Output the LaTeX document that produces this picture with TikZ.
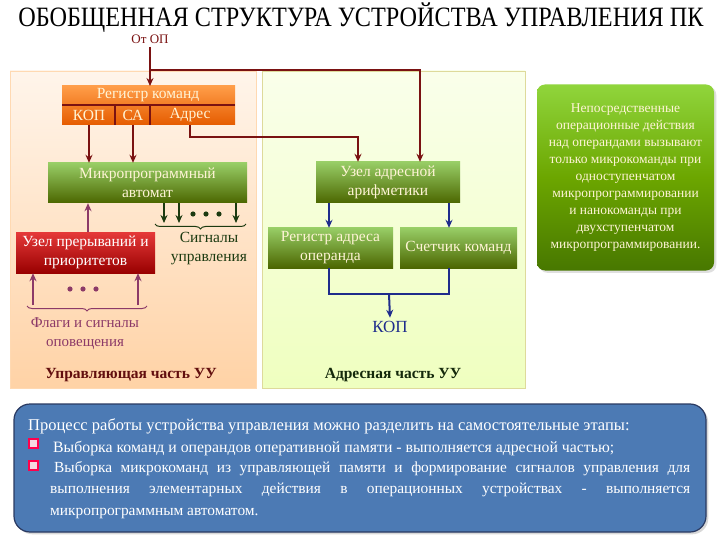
\documentclass[tikz,border=0pt]{standalone}
\usepackage{fontspec}
\setmainfont{Liberation Serif}
\usetikzlibrary{arrows.meta,decorations.pathreplacing,shadows}
\definecolor{dred}{HTML}{7A1212}
\definecolor{dblue}{HTML}{1F2C8C}
\definecolor{dgreen}{HTML}{1C3A10}
\definecolor{purp}{HTML}{8C3A68}
\definecolor{cream}{HTML}{FFF4D6}
\definecolor{botfill}{HTML}{4C7AB4}
\definecolor{botdraw}{HTML}{2A3A62}
\tikzset{
  x=1pt,y=-1pt,
  regbox/.style={draw=none,top color=orange!70!white!95!red,bottom color=orange!80!red!90!black},
  gbox/.style={draw=none,top color=green!35!olive!60!white,bottom color=olive!85!green!70!black},
  rbox/.style={draw=none,top color=red!75!white!90!black,bottom color=red!60!black},
  btxt/.style={font=\fontsize{15.5}{19}\selectfont,text=cream,align=center},
  redarr/.style={draw=dred,line width=2pt,-{Stealth[length=8pt,width=7pt]}},
  bluearr/.style={draw=dblue,line width=2pt,-{Stealth[length=8pt,width=7pt]}},
  grnarr/.style={draw=dgreen,line width=2pt,-{Stealth[length=8pt,width=7pt]}},
  purarr/.style={draw=purp,line width=2pt,-{Stealth[length=8pt,width=7pt]}},
  bline/.style={draw=dblue,line width=2pt},
  rline/.style={draw=dred,line width=2pt},
  brc/.style={decorate,decoration={brace,mirror,amplitude=5pt},line width=1pt},
}
\begin{document}
\begin{tikzpicture}
\useasboundingbox (0,0) rectangle (720,540);
\fill[white] (0,0) rectangle (720,540);
% title
\node[inner sep=0] (title) at (361,18) {\scalebox{0.865}[1]{\fontsize{28}{30}\selectfont ОБОБЩЕННАЯ СТРУКТУРА УСТРОЙСТВА УПРАВЛЕНИЯ ПК}};
\node[text=dred,font=\fontsize{13}{14}\selectfont,inner sep=1pt] (fromop) at (150,39) {От ОП};
% panels
\shade[top color=orange!8,bottom color=orange!35,draw=orange!30] (10,71) rectangle (256,388);
\shade[top color=lime!8!white,bottom color=lime!25!white,draw=olive!30] (262,71) rectangle (525,388);
% register
\shade[regbox] (62,86) rectangle (235,125);
\coordinate (regtop) at (150,86);
\draw[dred,line width=1.5pt] (62,105) -- (235,105) (115,105) -- (115,125) (150,105) -- (150,125);
\node[btxt] (reg) at (148,95.5) {Регистр команд};
\node[btxt] (kop1) at (89,115.5) {КОП};
\node[btxt] (sa) at (133,115.5) {СА};
\node[btxt] (adr) at (190,115.5) {Адрес};
% automat
\node[gbox,minimum width=199pt,minimum height=40pt,btxt] (mpa) at (147.5,183) {Микропрограммный\\автомат};
% interrupts
\node[rbox,minimum width=139pt,minimum height=41pt,btxt,text=white] (intr) at (85.5,252.5) {Узел прерываний и\\приоритетов};
% address arithmetic
\node[gbox,minimum width=144pt,minimum height=41pt,btxt] (aau) at (388,182.5) {Узел адресной\\арифметики};
\node[gbox,minimum width=125pt,minimum height=40pt,btxt] (rao) at (330.5,248) {Регистр адреса\\операнда};
\node[gbox,minimum width=117pt,minimum height=40pt,btxt] (sk) at (458.5,248) {Счетчик команд};
% right box
\node[draw=none,rounded corners=8pt,top color=olive!55!green!60!white,bottom color=olive!75!green!75!black,minimum width=177pt,minimum height=186pt,drop shadow={opacity=0.25}] (note) at (625.5,177.5) {};
\node[text=cream,align=center,font=\fontsize{13.5}{17}\selectfont] (notetxt) at (625.5,177.5) {Непосредственные\\операционные действия\\над операндами вызывают\\только микрокоманды при\\одноступенчатом\\микропрограммировании\\и нанокоманды при\\двухступенчатом\\микропрограммировании.};
% connectors from OP
\coordinate (j1) at (150,47);
\coordinate (j2) at (150,70);
\coordinate (j3) at (420,70);
\draw[redarr] (j1) -- (regtop);
\draw[redarr] (j2) -- (j3) -- (aau.north -| j3);
\coordinate (a1) at (190,125);
\coordinate (a2) at (190,137);
\coordinate (a3) at (358,137);
\draw[redarr] (a1) -- (a2) -- (a3) -- (aau.north -| a3);
\draw[redarr] (89,125) -- (mpa.north -| 89,0);
\draw[redarr] (133,125) -- (mpa.north -| 133,0);
% signals
\draw[grnarr] (mpa.south -| 164,0) -- (164,223);
\draw[grnarr] (mpa.south -| 179,0) -- (179,223);
\draw[grnarr] (mpa.south -| 236,0) -- (236,223);
\foreach \xx in {193,206,219} \fill[dgreen] (\xx,214) circle (2.6pt);
\draw[brc,dgreen] (155,224) -- (246,224);
\node[text=dgreen,align=center,font=\fontsize{15.5}{19}\selectfont] (sig) at (209,249) {Сигналы\\управления};
% interrupts to automat
\draw[purarr] (intr.north -| 88,0) -- (mpa.south -| 88,0);
\draw[purarr] (33,305) -- (intr.south -| 33,0);
\draw[purarr] (138,305) -- (intr.south -| 138,0);
\foreach \xx in {70,83,96} \fill[purp] (\xx,289) circle (2.6pt);
\draw[brc,purp] (27,306) -- (147,306);
\node[text=purp,align=center,font=\fontsize{15}{19}\selectfont] (flags) at (85,334) {Флаги и сигналы\\оповещения};
\node[text=dred!80!black,font=\bfseries\fontsize{15.5}{16}\selectfont] (uch) at (131,375) {Управляющая часть УУ};
% address part connectors
\draw[bluearr] (aau.south -| 329,0) -- (rao.north -| 329,0);
\draw[bluearr] (aau.south -| 449,0) -- (sk.north -| 449,0);
\coordinate (b1) at (329,294);
\coordinate (b2) at (449,294);
\coordinate (b3) at (389,294);
\draw[bline] (rao.south -| b1) -- (b1) -- (b2) -- (sk.south -| b2);
\node[text=dblue,font=\fontsize{17}{18}\selectfont] (kop2) at (390,327) {КОП};
\draw[bluearr] (b3) -- (kop2.north);
\node[text=dgreen!70!black,font=\bfseries\fontsize{15.5}{16}\selectfont] (ach) at (393,375) {Адресная часть УУ};
% bottom box
\node[draw=botdraw,line width=1.2pt,rounded corners=16pt,fill=botfill,minimum width=692pt,minimum height=128pt,drop shadow={opacity=0.3}] (bot) at (360,468) {};
\begin{scope}[font=\fontsize{15.4}{21.5}\selectfont,text=white]
\node[anchor=base west,inner sep=0] (p1) at (28,430) {\fontsize{16.5}{21.5}\selectfont Процесс работы устройства управления можно разделить на самостоятельные этапы:};
\node[anchor=base west,inner sep=0] (p2) at (53,452) {\fontsize{15.8}{21.5}\selectfont Выборка команд и операндов оперативной памяти - выполняется адресной частью;};
\node[anchor=north west,inner sep=0,align=left] (p3) at (50,461) {\hspace*{4pt}\makebox[636pt][s]{Выборка микрокоманд из управляющей памяти и формирование сигналов управления для}\\\makebox[640pt][s]{выполнения элементарных действия в операционных устройствах - выполняется}\\микропрограммным автоматом.};
\end{scope}
\foreach \yy in {448,470} \draw[draw=red!70!magenta,line width=1.2pt,fill=white!85!purple] (29,\yy) rectangle (38,\yy-9);
\end{tikzpicture}
\end{document}
